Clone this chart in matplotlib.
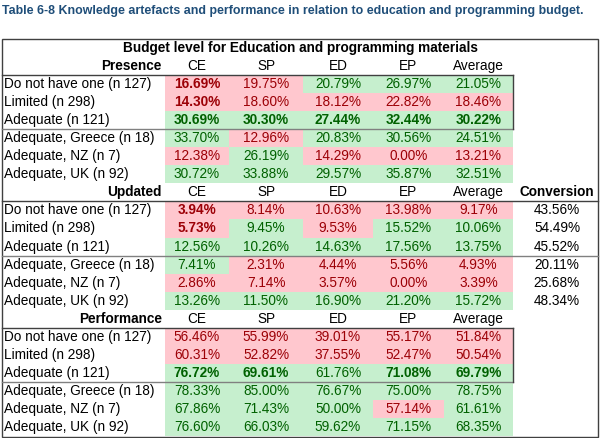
import matplotlib
matplotlib.use("Agg")
import matplotlib.pyplot as plt
from matplotlib.patches import Rectangle

plt.rcParams['font.family'] = ['Liberation Sans', 'DejaVu Sans']

title = "Table 6-8 Knowledge artefacts and performance in relation to education and programming budget."
supheader = "Budget level for Education and programming materials"
columns = ["CE", "SP", "ED", "EP", "Average"]
row_labels = ["Do not have one (n 127)", "Limited (n 298)", "Adequate (n 121)",
              "Adequate, Greece (n 18)", "Adequate, NZ (n 7)", "Adequate, UK (n 92)"]
sections = ["Presence", "Updated", "Performance"]

presence = [[16.69, 19.75, 20.79, 26.97, 21.05],
            [14.30, 18.60, 18.12, 22.82, 18.46],
            [30.69, 30.30, 27.44, 32.44, 30.22],
            [33.70, 12.96, 20.83, 30.56, 24.51],
            [12.38, 26.19, 14.29, 0.00, 13.21],
            [30.72, 33.88, 29.57, 35.87, 32.51]]
presence_col = ["rrggg", "rrrrr", "ggggg", "grggg", "rgrrr", "ggggg"]
presence_bold = ["10000", "10000", "11111", "00000", "00000", "00000"]

updated = [[3.94, 8.14, 10.63, 13.98, 9.17],
           [5.73, 9.45, 9.53, 15.52, 10.06],
           [12.56, 10.26, 14.63, 17.56, 13.75],
           [7.41, 2.31, 4.44, 5.56, 4.93],
           [2.86, 7.14, 3.57, 0.00, 3.39],
           [13.26, 11.50, 16.90, 21.20, 15.72]]
updated_col = ["rrrrr", "rgrgg", "ggggg", "grrrr", "rrrrr", "ggggg"]
updated_bold = ["10000", "10000", "00000", "00000", "00000", "00000"]
conversion = [43.56, 54.49, 45.52, 20.11, 25.68, 48.34]

performance = [[56.46, 55.99, 39.01, 55.17, 51.84],
               [60.31, 52.82, 37.55, 52.47, 50.54],
               [76.72, 69.61, 61.76, 71.08, 69.79],
               [78.33, 85.00, 76.67, 75.00, 78.75],
               [67.86, 71.43, 50.00, 57.14, 61.61],
               [76.60, 66.03, 59.62, 71.15, 68.35]]
performance_col = ["rrrrr", "rrrrr", "ggggg", "ggggg", "gggrg", "ggggg"]
performance_bold = ["00000", "00000", "11011", "00000", "00000", "00000"]

W, H = 600, 438
fig = plt.figure(figsize=(6, 4.38), dpi=100)
ax = fig.add_axes([0, 0, 1, 1])
ax.set_xlim(0, W)
ax.set_ylim(H, 0)
ax.axis('off')

FS = 9.8
RED_BG, RED_FG = "#FFC7CE", "#9C0006"
GRN_BG, GRN_FG = "#C6EFCE", "#006100"
col_edges = [165, 229, 303, 373, 444, 513]
TOP = 38.5
RH = (436.5 - TOP) / 22

def yc(i):
    return TOP + RH * (i + 0.5)

ax.text(2, 11, title, fontsize=8.9, fontweight='bold', color="#1F4E79", va='center', ha='left')
ax.add_patch(Rectangle((1.5, TOP), 596, 436.5 - TOP, fill=False, lw=1, ec="#404040"))
ax.text(300, yc(0), supheader, fontsize=FS, fontweight='bold', ha='center', va='center')

blocks = [(presence, presence_col, presence_bold, None),
          (updated, updated_col, updated_bold, conversion),
          (performance, performance_col, performance_bold, None)]

row = 1
for s, (vals, cols, bolds, conv) in enumerate(blocks):
    ax.text(162, yc(row), sections[s], fontsize=FS, fontweight='bold', ha='right', va='center')
    for j, c in enumerate(columns):
        ax.text((col_edges[j] + col_edges[j + 1]) / 2, yc(row), c, fontsize=FS, ha='center', va='center')
    if conv is not None:
        ax.text(557, yc(row), "Conversion", fontsize=FS, fontweight='bold', ha='center', va='center')
    hdr = row
    row += 1
    for r in range(6):
        y = yc(row)
        ax.text(4, y, row_labels[r], fontsize=FS, ha='left', va='center')
        for j in range(5):
            red = cols[r][j] == 'r'
            ax.add_patch(Rectangle((col_edges[j], y - RH / 2), col_edges[j + 1] - col_edges[j], RH,
                                   fc=RED_BG if red else GRN_BG, ec='none'))
            ax.text((col_edges[j] + col_edges[j + 1]) / 2, y, f"{vals[r][j]:.2f}%", fontsize=FS,
                    color=RED_FG if red else GRN_FG,
                    fontweight='bold' if bolds[r][j] == '1' else 'normal', ha='center', va='center')
        if conv is not None:
            ax.text(557, y, f"{conv[r]:.2f}%", fontsize=FS, ha='center', va='center')
        row += 1
    ytop = TOP + RH * (hdr + 1)
    ymid = ytop + 3 * RH
    xr = 597.5 if conv is not None else 513
    ax.plot([1.5, xr], [ytop, ytop], color="#404040", lw=1)
    ax.plot([1.5, xr], [ymid, ymid], color="#808080", lw=1)
    if conv is None:
        ax.plot([513, 513], [ytop, ymid], color="#404040", lw=1)

fig.savefig("out.png", dpi=100)
